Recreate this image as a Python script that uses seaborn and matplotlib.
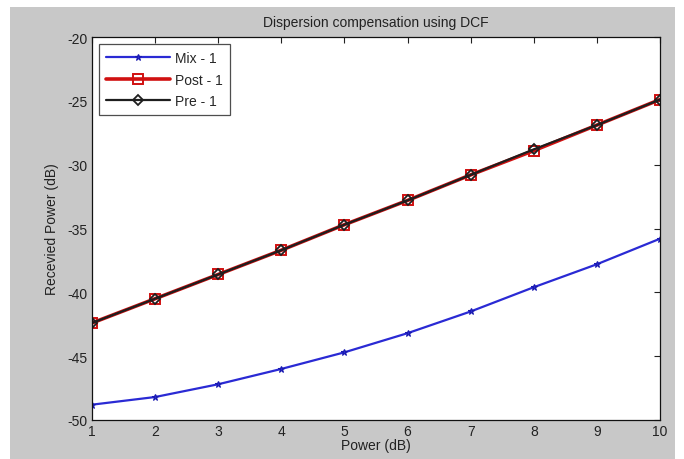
import numpy as np
import pandas as pd
import matplotlib
matplotlib.use('Agg')
import matplotlib.pyplot as plt
from matplotlib.patches import Rectangle
import seaborn as sns

power = [1, 2, 3, 4, 5, 6, 7, 8, 9, 10]
mix_1 = [-48.8, -48.2, -47.2, -46.0, -44.7, -43.2, -41.5, -39.6, -37.8, -35.8]
post_1 = [-42.4, -40.5, -38.6, -36.7, -34.7, -32.8, -30.8, -28.9, -26.9, -24.9]
pre_1 = [-42.4, -40.5, -38.6, -36.7, -34.7, -32.8, -30.8, -28.8, -26.9, -24.9]

df = pd.DataFrame({'Power': power * 3,
                   'Received': mix_1 + post_1 + pre_1,
                   'Series': ['Mix - 1'] * 10 + ['Post - 1'] * 10 + ['Pre - 1'] * 10})

sns.set_style('white')
plt.rcParams['font.family'] = ['Liberation Sans', 'DejaVu Sans']
plt.rcParams['axes.unicode_minus'] = False

fig = plt.figure(figsize=(6.84, 4.6), dpi=100)
fig.patch.set_facecolor('white')
bg = Rectangle((10 / 684, 0), 665 / 684, 452 / 460, transform=fig.transFigure,
               facecolor='#c8c8c8', edgecolor='none')
bg.set_zorder(-10)
fig.patches.append(bg)
ax = fig.add_axes([92 / 684, 1 - 421 / 460, 568 / 684, 383 / 460])
ax.set_zorder(1)
ax.set_facecolor('white')

styles = {'Mix - 1': dict(color='#2a2ad4', marker='*', markersize=5, linewidth=1.6,
                          markeredgecolor='#1a1ab0', markeredgewidth=0.8),
          'Post - 1': dict(color='#d01010', marker='s', markersize=6.5, linewidth=2.6,
                           markerfacecolor='none', markeredgecolor='#d01010',
                           markeredgewidth=1.4),
          'Pre - 1': dict(color='#1e1e1e', marker='D', markersize=5.5, linewidth=1.6,
                          markerfacecolor='none', markeredgecolor='#1e1e1e',
                          markeredgewidth=1.3)}

for name, kw in styles.items():
    sub = df[df['Series'] == name]
    sns.lineplot(data=sub, x='Power', y='Received', ax=ax, label=name, **kw)

ax.set_xlim(1, 10)
ax.set_ylim(-50, -20)
ax.set_xticks(power)
ax.set_yticks(np.arange(-50, -19, 5))
ax.tick_params(direction='in', top=True, right=True, length=4, labelsize=10,
               colors='#222222', pad=3)
for s in ax.spines.values():
    s.set_color('#111111')
    s.set_linewidth(0.9)

ax.set_title('Dispersion compensation using DCF', fontsize=10, color='#222222', pad=8)
ax.set_xlabel('Power (dB)', fontsize=10, color='#222222', labelpad=0)
ax.set_ylabel('Recevied Power (dB)', fontsize=10, color='#222222', labelpad=6)

leg = ax.legend(loc='upper left', fontsize=10, frameon=True, fancybox=False,
                borderaxespad=0.5, handlelength=4.6, labelspacing=0.55,
                borderpad=0.5, handletextpad=0.4)
leg.get_frame().set_edgecolor('#222222')
leg.get_frame().set_linewidth(0.9)

fig.savefig('out.png', dpi=100, facecolor=fig.get_facecolor())
